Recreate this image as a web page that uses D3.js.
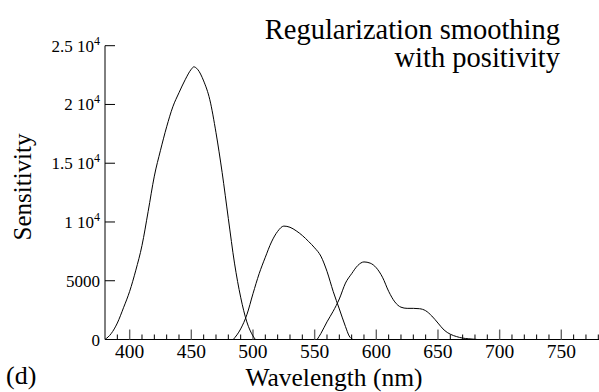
<!DOCTYPE html>
<html><head><meta charset="utf-8">
<script src="https://cdn.jsdelivr.net/npm/d3@7/dist/d3.min.js"></script>
<style>body{margin:0;background:#fff}svg{display:block}</style>
</head><body>
<svg id="c" width="599" height="392"></svg>
<script>
// Data
const blueWl  = [380,385,390,395,400,405,410,415,420,425,430,435,440,445,450,452,455,460,465,470,475,480,485,490,495,500,502];
const blueVal = [0,500,1400,2700,4100,5900,8000,10900,13900,16100,18100,19800,21000,22100,23000,23200,23000,22000,20400,17600,14200,10300,6500,3600,1500,300,0];
const greenWl  = [484,490,495,500,505,510,515,520,525,530,535,540,545,550,555,560,565,570,575,578,581];
const greenVal = [0,900,2100,3900,5600,7000,8300,9200,9650,9550,9250,8850,8350,7800,7100,5800,4100,2600,1100,300,0];
const redWl  = [552,555,560,565,570,575,580,585,590,595,600,605,610,615,620,625,630,635,640,645,650,655,660,665,670,675,682];
const redVal = [0,500,1500,2400,3450,4800,5600,6300,6600,6500,6100,5300,4100,3200,2750,2650,2650,2620,2450,2000,1400,800,450,250,120,60,0];
const xMajor = [400,450,500,550,600,650,700,750];
const yTicks = [0,5000,10000,15000,20000,25000];
const yTickLabels = [["0",""],["5000",""],["1 10","4"],["1.5 10","4"],["2 10","4"],["2.5 10","4"]];
const titleLines = ["Regularization smoothing","with positivity"];

const FONT = "Liberation Serif";
const svg = d3.select("#c");
const x = d3.scaleLinear().domain([380,780]).range([105,598.3]);
const y = d3.scaleLinear().domain([0,25000]).range([339.5,45.7]);

// Axes
const g = svg.append("g");
g.append("line").attr("x1",x(380)).attr("x2",599).attr("y1",y(0)).attr("y2",y(0)).attr("stroke","#000");
g.append("line").attr("x1",x(380)).attr("x2",x(380)).attr("y1",y(0)).attr("y2",y(25000)).attr("stroke","#000");

// x ticks
const minor = d3.range(390,781,10).filter(v=>v%50!==0);
g.selectAll(".mn").data(minor).join("line")
  .attr("x1",d=>x(d)).attr("x2",d=>x(d)).attr("y1",y(0)).attr("y2",y(0)-5).attr("stroke","#000");
g.selectAll(".mj").data(xMajor).join("line")
  .attr("x1",d=>x(d)).attr("x2",d=>x(d)).attr("y1",y(0)).attr("y2",y(0)-10).attr("stroke","#666").attr("stroke-width",1.4);
g.selectAll(".xl").data(xMajor).join("text")
  .attr("font-family",FONT)
  .attr("x",d=>x(d)).attr("y",358).attr("text-anchor","middle").attr("font-size",19.5).text(d=>d);

// y ticks
g.selectAll(".yt").data(yTicks).join("line")
  .attr("x1",x(380)).attr("x2",x(380)+10).attr("y1",d=>y(d)).attr("y2",d=>y(d)).attr("stroke","#000");
const yl = g.selectAll(".yl").data(yTicks).join("text")
  .attr("font-family",FONT)
  .attr("x",100).attr("y",d=>y(d)+6).attr("text-anchor","end").attr("font-size",17);
yl.each(function(d,i){
  const t = d3.select(this);
  t.append("tspan").text(yTickLabels[i][0]);
  if (yTickLabels[i][1]) t.append("tspan").attr("font-size",12).attr("dy",-7).text(yTickLabels[i][1]);
});

// curves
const line = d3.line().x(d=>x(d[0])).y(d=>y(d[1])).curve(d3.curveMonotoneX);
[[blueWl,blueVal],[greenWl,greenVal],[redWl,redVal]].forEach(([w,v])=>{
  svg.append("path").attr("d",line(w.map((d,i)=>[d,v[i]]))).attr("fill","none").attr("stroke","#000").attr("stroke-width",1);
});

// labels
svg.append("text").attr("font-family",FONT).attr("x",334).attr("y",386).attr("text-anchor","middle").attr("font-size",25.5).text("Wavelength (nm)");
svg.append("text").attr("font-family",FONT).attr("transform","translate(31,187) rotate(-90)").attr("text-anchor","middle").attr("font-size",25).text("Sensitivity");
svg.append("text").attr("font-family",FONT).attr("x",6).attr("y",384).attr("font-size",26).text("(d)");
titleLines.forEach((t,i)=>{
  svg.append("text").attr("font-family",FONT).attr("x",560).attr("y",39+i*28).attr("text-anchor","end").attr("font-size",28.5).text(t);
});
</script>
</body></html>
